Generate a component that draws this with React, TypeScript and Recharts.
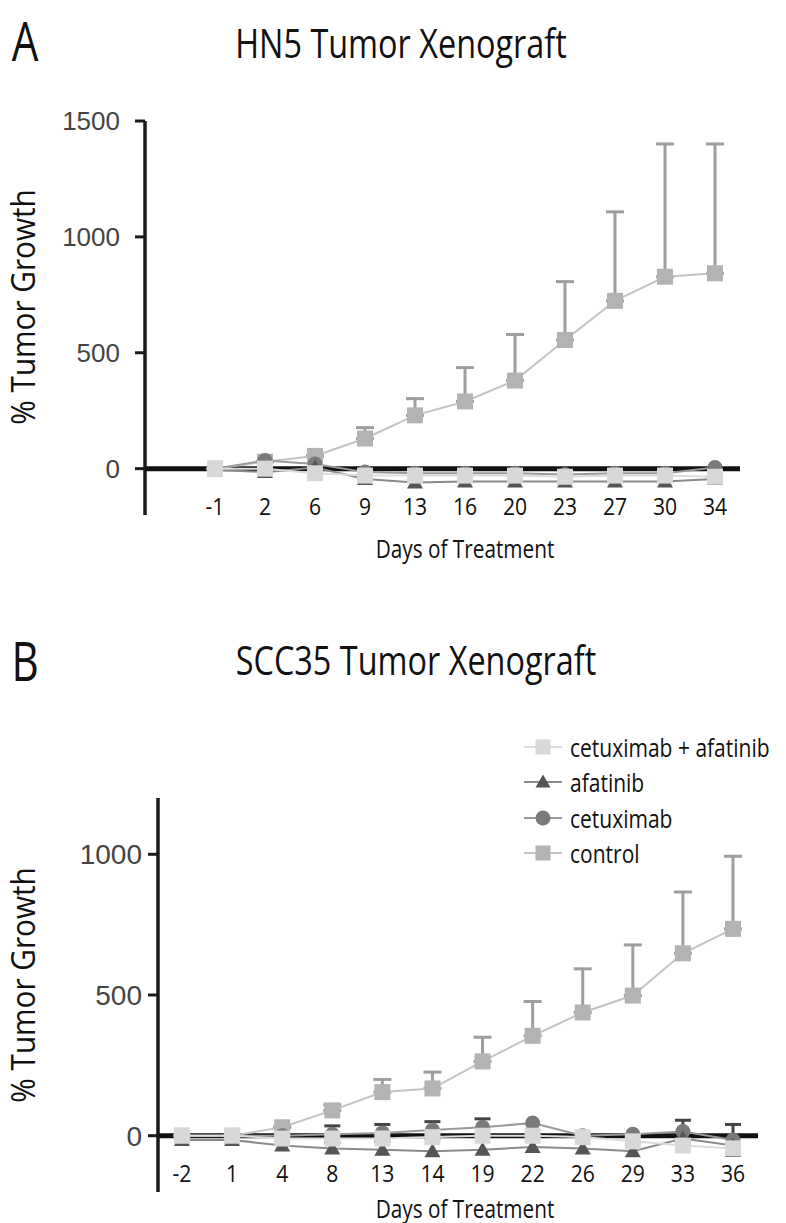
import React from "react";
import { ErrorBar, Line, LineChart, ReferenceLine, XAxis, YAxis } from "recharts";

// Panel A: HN5
const daysA = ["-1", "2", "6", "9", "13", "16", "20", "23", "27", "30", "34"];
const controlA = [0, 30, 55, 130, 230, 290, 380, 555, 724, 828, 843];
const controlErrA = [0, 0, 0, 47, 72, 146, 199, 252, 384, 573, 558];
const comboA = [0, 0, -20, -30, -30, -30, -30, -35, -30, -30, -35];
const afatinibA = [-5, -15, 5, -45, -60, -55, -55, -55, -55, -55, -45];
const cetuximabA = [0, 35, 20, -15, -20, -20, -20, -25, -20, -20, 5];

// Panel B: SCC35
const daysB = ["-2", "1", "4", "8", "13", "14", "19", "22", "26", "29", "33", "36"];
const controlB = [0, 0, 30, 90, 155, 168, 264, 355, 438, 498, 648, 735];
const controlErrB = [0, 0, 0, 20, 45, 58, 86, 122, 155, 180, 218, 258];
const comboB = [0, 0, -10, -10, -10, -5, 0, 0, -5, -20, -35, -45];
const afatinibB = [-15, -15, -35, -45, -50, -55, -50, -40, -45, -55, -10, -35];
const cetuximabB = [0, 0, 0, 5, 10, 20, 30, 45, 0, 5, 15, -15];
const cetuximabErrB = [0, 0, 0, 30, 30, 30, 30, 0, 0, 0, 40, 55];

const ticksA = [0, 500, 1000, 1500];
const ticksB = [0, 500, 1000];

const legendItems = [
  { name: "cetuximab + afatinib", shape: "square", fill: "#d8d8d8", line: "#dcdcdc" },
  { name: "afatinib", shape: "triangle", fill: "#555", line: "#8a8a8a" },
  { name: "cetuximab", shape: "circle", fill: "#7a7a7a", line: "#999" },
  { name: "control", shape: "square", fill: "#b3b3b3", line: "#c4c4c4" },
];

const dataA = daysA.map((day, i) => ({
  day,
  control: controlA[i],
  controlErr: [0, controlErrA[i]],
  combo: comboA[i],
  afatinib: afatinibA[i],
  cetuximab: cetuximabA[i],
}));

const dataB = daysB.map((day, i) => ({
  day,
  control: controlB[i],
  controlErr: [0, controlErrB[i]],
  combo: comboB[i],
  afatinib: afatinibB[i],
  cetuximab: cetuximabB[i],
  cetuximabErr: cetuximabErrB[i],
}));

const FONT = "'Open Sans', sans-serif";

function marker(shape: string, fill: string, s: number) {
  return (p: any) => {
    const { cx, cy, index } = p;
    if (cx == null || cy == null) return <g key={"n" + index} />;
    if (shape === "square")
      return <rect key={"m" + index} x={cx - s / 2} y={cy - s / 2} width={s} height={s} fill={fill} />;
    if (shape === "circle") return <circle key={"m" + index} cx={cx} cy={cy} r={s / 2} fill={fill} />;
    return (
      <polygon
        key={"m" + index}
        points={`${cx},${cy - s / 2} ${cx - s / 2},${cy + s / 2 - 2} ${cx + s / 2},${cy + s / 2 - 2}`}
        fill={fill}
      />
    );
  };
}

function dayTick(labelY: number) {
  return (p: any) => (
    <text
      transform={`translate(${p.x},${labelY}) scale(0.88,1)`}
      textAnchor="middle"
      dominantBaseline="central"
      fontFamily={FONT}
      fontSize={24}
      fill="#111"
    >
      {p.payload.value}
    </text>
  );
}

const Caption = ({ x, y, size, rotate = false, sx = 0.9, children }: any) => (
  <div
    style={{
      position: "absolute",
      left: x,
      top: y,
      fontFamily: FONT,
      fontSize: size,
      lineHeight: 1,
      color: "#111",
      whiteSpace: "nowrap",
      transform: `translate(-50%, -50%) ${rotate ? "rotate(-90deg)" : ""} scaleX(${sx})`,
    }}
  >
    {children}
  </div>
);

const LegendIcon = ({ shape, fill, line }: any) => (
  <svg width={38} height={20} style={{ marginRight: 8 }}>
    <line x1={0} y1={10} x2={38} y2={10} stroke={line} strokeWidth={2} />
    {marker(shape, fill, 15)({ cx: 19, cy: 10, index: 0 })}
  </svg>
);

function controlLine() {
  return (
    <Line
      dataKey="control"
      stroke="#c4c4c4"
      strokeWidth={2}
      dot={marker("square", "#b3b3b3", 16)}
      isAnimationActive={false}
    >
      <ErrorBar dataKey="controlErr" direction="y" width={9} stroke="#9e9e9e" strokeWidth={3} />
    </Line>
  );
}

export default function App() {
  return (
    <div style={{ position: "absolute", left: 0, top: 0, width: 786, height: 1223, background: "#fff" }}>
      <Caption x={25} y={40} size={54} sx={0.78}>A</Caption>
      <Caption x={401} y={43} size={40} sx={0.81}>HN5 Tumor Xenograft</Caption>
      <Caption x={22} y={307} size={33} rotate>% Tumor Growth</Caption>
      <Caption x={465} y={548} size={25} sx={0.83}>Days of Treatment</Caption>

      <div style={{ position: "absolute", left: 0, top: 0 }}>
        <LineChart width={786} height={600} data={dataA} margin={{ top: 121, right: 46, bottom: 55, left: 0 }}>
          <XAxis
            dataKey="day"
            padding={{ left: 70, right: 25 }}
            axisLine={false}
            tickLine={false}
            height={30}
            interval={0}
            tick={dayTick(506)}
          />
          <YAxis
            width={145}
            domain={[-200, 1500]}
            ticks={ticksA}
            allowDataOverflow
            axisLine={{ stroke: "#1a1a1a", strokeWidth: 3.5 }}
            tickLine={{ stroke: "#1a1a1a", strokeWidth: 3 }}
            tickSize={10}
            tickMargin={15}
            tick={{ fontFamily: "'Liberation Sans', Arial, sans-serif", fontSize: 26, fill: "#444" }}
          />
          <ReferenceLine y={0} stroke="#111" strokeWidth={5} />
          {controlLine()}
          <Line dataKey="cetuximab" stroke="#999" strokeWidth={2} dot={marker("circle", "#7a7a7a", 15)} isAnimationActive={false} />
          <Line dataKey="afatinib" stroke="#8a8a8a" strokeWidth={2} dot={marker("triangle", "#555", 16)} isAnimationActive={false} />
          <Line dataKey="combo" stroke="#dcdcdc" strokeWidth={2} dot={marker("square", "#d8d8d8", 16)} isAnimationActive={false} />
        </LineChart>
      </div>

      <Caption x={25} y={660} size={54} sx={0.78}>B</Caption>
      <Caption x={416} y={660} size={40} sx={0.81}>SCC35 Tumor Xenograft</Caption>
      <Caption x={22} y={985} size={33} rotate>% Tumor Growth</Caption>
      <Caption x={465} y={1208} size={25} sx={0.83}>Days of Treatment</Caption>

      <div style={{ position: "absolute", left: 0, top: 700 }}>
        <LineChart width={786} height={523} data={dataB} margin={{ top: 98, right: 28, bottom: 1, left: 0 }}>
          <XAxis
            dataKey="day"
            padding={{ left: 24, right: 25 }}
            axisLine={false}
            tickLine={false}
            height={30}
            interval={0}
            tick={dayTick(473)}
          />
          <YAxis
            width={158}
            domain={[-200, 1200]}
            ticks={ticksB}
            allowDataOverflow
            axisLine={{ stroke: "#1a1a1a", strokeWidth: 3.5 }}
            tickLine={{ stroke: "#1a1a1a", strokeWidth: 3 }}
            tickSize={10}
            tickMargin={6}
            tick={{ fontFamily: "'Liberation Sans', Arial, sans-serif", fontSize: 28, fill: "#444" }}
          />
          <ReferenceLine y={0} stroke="#111" strokeWidth={5} />
          {controlLine()}
          <Line dataKey="cetuximab" stroke="#999" strokeWidth={2} dot={marker("circle", "#7a7a7a", 15)} isAnimationActive={false}>
            <ErrorBar dataKey="cetuximabErr" direction="y" width={8} stroke="#444" strokeWidth={3} />
          </Line>
          <Line dataKey="afatinib" stroke="#8a8a8a" strokeWidth={2} dot={marker("triangle", "#555", 16)} isAnimationActive={false} />
          <Line dataKey="combo" stroke="#dcdcdc" strokeWidth={2} dot={marker("square", "#d8d8d8", 16)} isAnimationActive={false} />
        </LineChart>
      </div>

      <div style={{ position: "absolute", left: 524, top: 729, fontFamily: FONT, fontSize: 25, color: "#111" }}>
        {legendItems.map((it) => (
          <div key={it.name} style={{ display: "flex", alignItems: "center", height: 35.5, whiteSpace: "nowrap" }}>
            <LegendIcon shape={it.shape} fill={it.fill} line={it.line} />
            <span style={{ display: "inline-block", transform: "scaleX(0.84)", transformOrigin: "left center" }}>{it.name}</span>
          </div>
        ))}
      </div>
    </div>
  );
}
